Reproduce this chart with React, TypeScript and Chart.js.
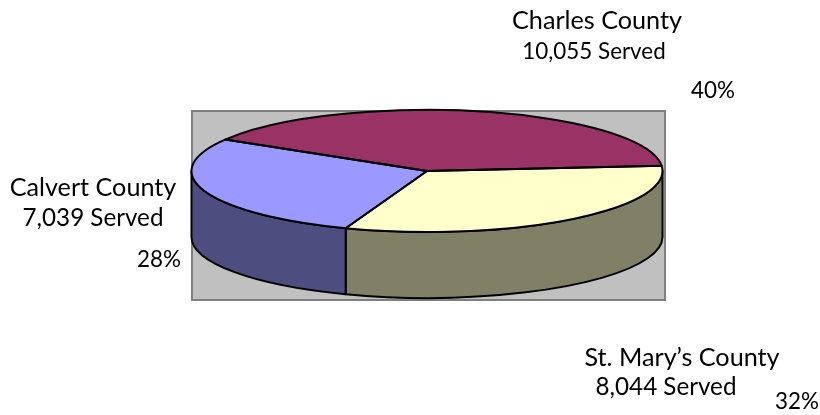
import React, { useEffect, useRef } from "react";
import { Chart, registerables } from "chart.js";

Chart.register(...registerables);

const counties = ["Charles County", "St. Mary’s County", "Calvert County"];
const served = [10055, 8044, 7039];
const servedLabels = ["10,055 Served", "8,044 Served", "7,039 Served"];
const percents = ["40%", "32%", "28%"];
const topColors = ["#993366", "#FFFFCC", "#9999FF"];
const wallColors = ["#4D1A33", "#808066", "#4D4D80"];

const W = 820;
const H = 415;
const Y_SCALE = 0.259;
const DEPTH = 66;
const family = 'Lato, "Noto Sans", sans-serif';
const NAME_FONT = `25.2px ${family}`;
const PCT_FONT = `22.4px ${family}`;
const SERVED_FONTS = [`22.4px ${family}`, `24.2px ${family}`, `24.2px ${family}`];

// [nameX, nameY, servedX, servedY, pctX, pctY] – centre x, baseline y
const labelSpots = [
  [597, 29, 594, 59, 713, 98],
  [682, 366, 666, 395, 797, 409],
  [93, 196, 93, 226, 159, 267],
];

const pie3d = {
  id: "pie3d",
  beforeDatasetsDraw(chart: any) {
    const { ctx } = chart;
    const arcs = chart.getDatasetMeta(0).data;
    ctx.save();
    ctx.fillStyle = "#C0C0C0";
    ctx.strokeStyle = "#808080";
    ctx.lineWidth = 2;
    ctx.fillRect(192, 111, 473, 189);
    ctx.strokeRect(192, 111, 473, 189);
    ctx.lineJoin = "round";
    arcs.forEach((arc: any, i: number) => {
      const { x, y, startAngle, endAngle, outerRadius } = arc;
      const ry = outerRadius * Y_SCALE;
      for (let n = -1; n <= 2; n++) {
        const a0 = Math.max(startAngle, n * 2 * Math.PI);
        const a1 = Math.min(endAngle, n * 2 * Math.PI + Math.PI);
        if (a1 <= a0) continue;
        ctx.beginPath();
        ctx.ellipse(x, y, outerRadius, ry, 0, a0, a1);
        ctx.ellipse(x, y + DEPTH, outerRadius, ry, 0, a1, a0, true);
        ctx.closePath();
        ctx.fillStyle = wallColors[i];
        ctx.fill();
        ctx.strokeStyle = "#000";
        ctx.lineWidth = 2;
        ctx.stroke();
      }
    });
    const first = arcs[0];
    ctx.restore();
    ctx.save();
    ctx.translate(first.x, first.y);
    ctx.scale(1, Y_SCALE);
    ctx.translate(-first.x, -first.y);
  },
  afterDatasetsDraw(chart: any) {
    const { ctx } = chart;
    ctx.restore();
    const arcs = chart.getDatasetMeta(0).data;
    ctx.save();
    ctx.strokeStyle = "#000";
    ctx.lineWidth = 2;
    ctx.lineJoin = "round";
    arcs.forEach((arc: any) => {
      const { x, y, startAngle, endAngle, outerRadius } = arc;
      ctx.beginPath();
      ctx.moveTo(x, y);
      ctx.ellipse(x, y, outerRadius, outerRadius * Y_SCALE, 0, startAngle, endAngle);
      ctx.closePath();
      ctx.stroke();
    });
    ctx.fillStyle = "#000";
    ctx.textAlign = "center";
    ctx.textBaseline = "alphabetic";
    counties.forEach((name, i) => {
      const s = labelSpots[i];
      ctx.font = NAME_FONT;
      ctx.fillText(name, s[0], s[1]);
      ctx.font = SERVED_FONTS[i];
      ctx.fillText(servedLabels[i], s[2], s[3]);
      ctx.font = PCT_FONT;
      ctx.fillText(percents[i], s[4], s[5]);
    });
    ctx.restore();
  },
};

export default function App() {
  const ref = useRef<HTMLCanvasElement | null>(null);
  useEffect(() => {
    const chart = new Chart(ref.current as HTMLCanvasElement, {
      type: "pie",
      data: {
        labels: counties,
        datasets: [
          {
            data: served,
            backgroundColor: topColors,
            borderWidth: 0,
            clip: false,
          } as any,
        ],
      },
      options: {
        responsive: false,
        animation: false,
        rotation: 301,
        radius: 235.5,
        layout: { padding: { left: 34, right: 0, top: 0, bottom: 73 } },
        plugins: { legend: { display: false }, tooltip: { enabled: false } },
      } as any,
      plugins: [pie3d],
    });
    return () => chart.destroy();
  }, []);
  return (
    <div style={{ position: "absolute", left: 0, top: 0, width: W, height: H }}>
      <canvas ref={ref} width={W} height={H} style={{ display: "block" }} />
    </div>
  );
}
